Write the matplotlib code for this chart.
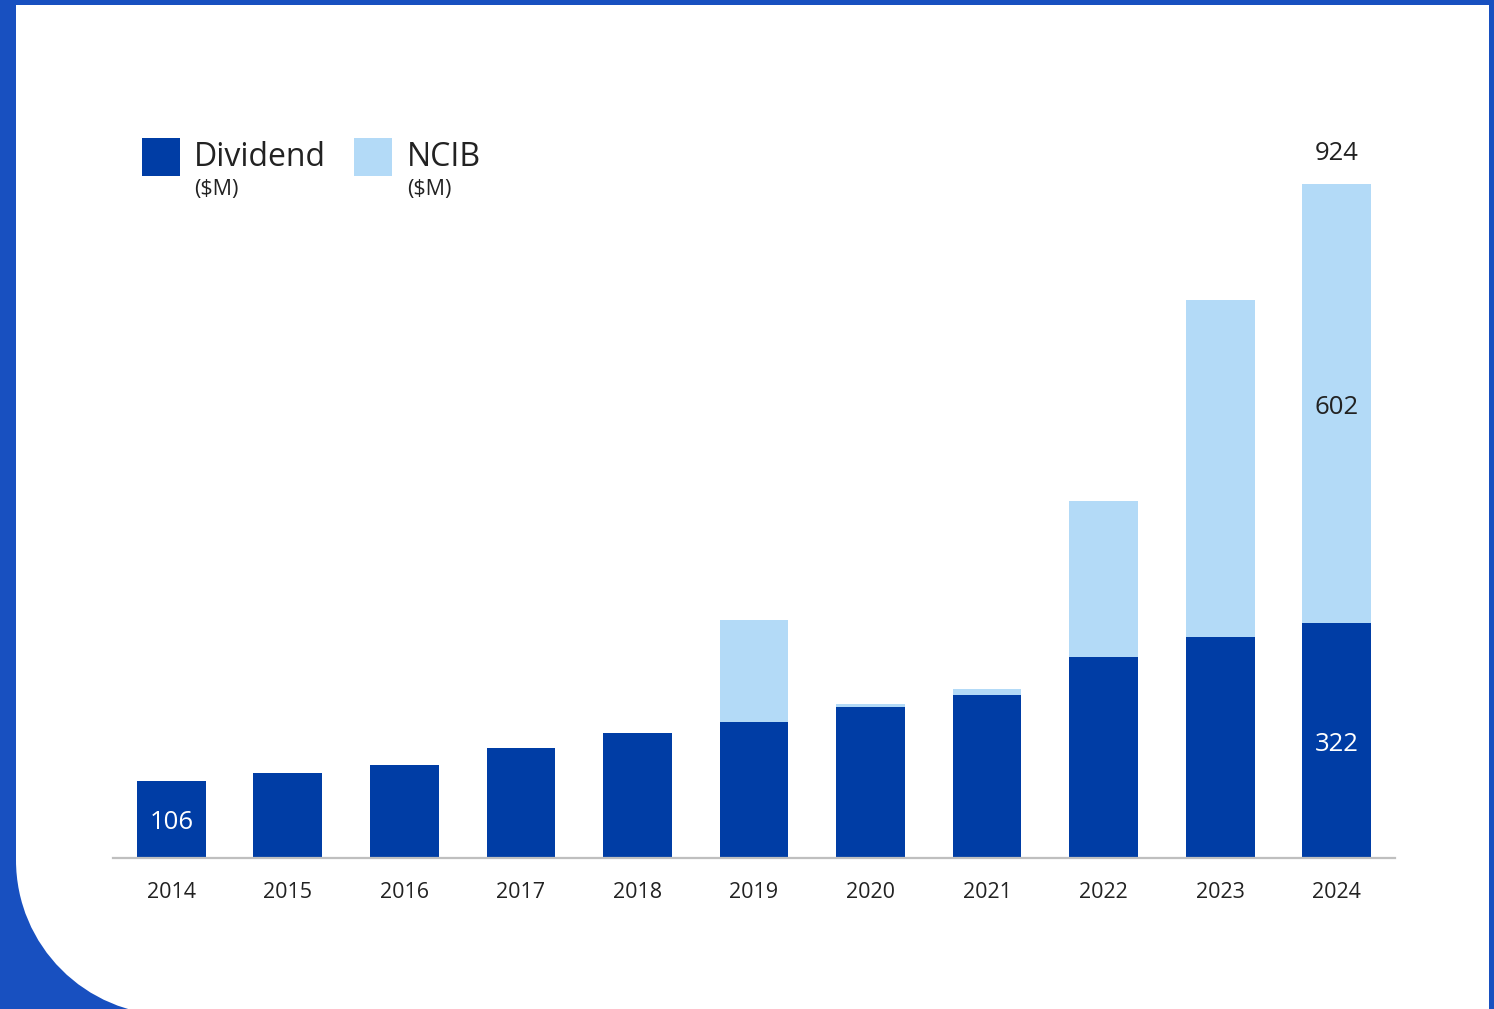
import matplotlib.pyplot as plt
from matplotlib.path import Path
from matplotlib.patches import PathPatch, Rectangle

plt.rcParams['font.family'] = ['Open Sans', 'DejaVu Sans']

# Data ($M)
years = ['2014', '2015', '2016', '2017', '2018', '2019', '2020', '2021', '2022', '2023', '2024']
dividend = [106, 117, 127, 151, 171, 186, 207, 223, 276, 303, 322]
ncib = [0, 0, 0, 0, 0, 140, 4, 8, 214, 462, 602]

dark_blue = '#003DA5'
light_blue = '#B3DAF7'
text_col = '#222222'

W, H = 1494, 1009
fig = plt.figure(figsize=(W / 100, H / 100), dpi=100)
fig.patch.set_facecolor('#1850c0')

# white panel with rounded bottom-left corner (pixel coordinates)
bg = fig.add_axes([0, 0, 1, 1], zorder=0)
bg.set_xlim(0, W)
bg.set_ylim(H, 0)
bg.axis('off')
L, T, R, B, r = 16, 5, 1489, 1015, 155
k = 0.5523
verts = [(L, T), (R, T), (R, B), (L + r, B),
         (L + r - k * r, B), (L, B - r + k * r), (L, B - r),
         (L, T)]
codes = [Path.MOVETO, Path.LINETO, Path.LINETO, Path.LINETO,
         Path.CURVE4, Path.CURVE4, Path.CURVE4, Path.CLOSEPOLY]
bg.add_patch(PathPatch(Path(verts, codes), facecolor='white', edgecolor='none'))

# legend
bg.add_patch(Rectangle((142, 138), 38, 38, facecolor=dark_blue, edgecolor='none'))
bg.add_patch(Rectangle((354, 138), 38, 38, facecolor=light_blue, edgecolor='none'))
bg.text(194, 157, 'Dividend', fontsize=23, color=text_col, va='center', ha='left')
bg.text(194, 190, '($M)', fontsize=15.5, color=text_col, va='center', ha='left')
bg.text(407, 157, 'NCIB', fontsize=23, color=text_col, va='center', ha='left')
bg.text(407, 190, '($M)', fontsize=15.5, color=text_col, va='center', ha='left')

# chart axes
ax = fig.add_axes([113 / W, (H - 858) / H, (1395 - 113) / W, 758 / H], zorder=1)
ax.patch.set_alpha(0)
x = range(len(years))
ax.bar(x, dividend, width=0.59, color=dark_blue, zorder=2)
ax.bar(x, ncib, width=0.59, bottom=dividend, color=light_blue, zorder=2)
ax.set_xlim(-0.5, len(years) - 0.5)
ax.set_ylim(0, 1039)

for s in ['top', 'right', 'left']:
    ax.spines[s].set_visible(False)
ax.spines['bottom'].set_color('#bfbfbf')
ax.spines['bottom'].set_linewidth(1.6)
ax.spines['bottom'].set_zorder(3)
ax.set_yticks([])
ax.set_xticks(list(x))
ax.set_xticklabels(years, fontsize=15.5, color=text_col)
ax.tick_params(axis='x', length=0, pad=17)

# value labels
off = -5
ax.text(0, dividend[0] / 2 + off, str(dividend[0]), ha='center', va='center',
        fontsize=18.5, color='white', zorder=4)
last = len(years) - 1
ax.text(last, dividend[last] / 2 + off, str(dividend[last]), ha='center', va='center',
        fontsize=18.5, color='white', zorder=4)
ax.text(last, dividend[last] + ncib[last] / 2 + off, str(ncib[last]), ha='center', va='center',
        fontsize=18.5, color=text_col, zorder=4)
ax.text(last, dividend[last] + ncib[last] + 42, str(dividend[last] + ncib[last]),
        ha='center', va='center', fontsize=18.5, color=text_col, zorder=4)

fig.savefig('out.png', dpi=100)
